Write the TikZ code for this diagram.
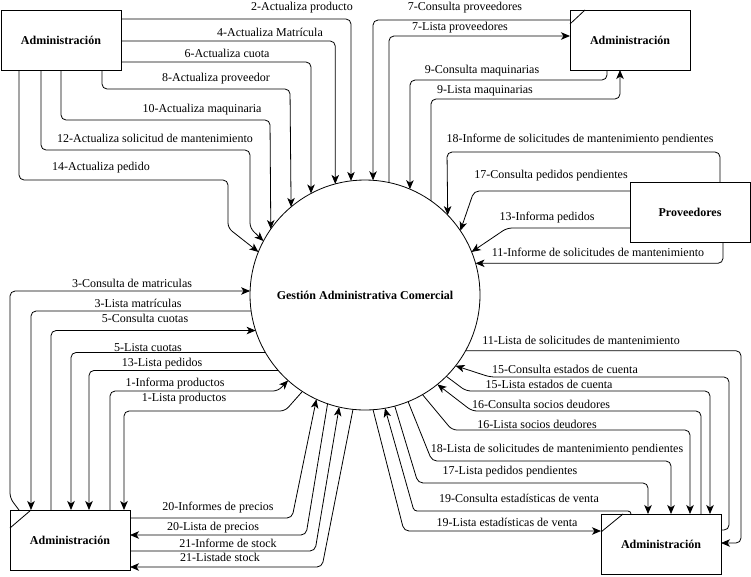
\documentclass[tikz,border=0pt]{standalone}
\usepackage{fontspec}
\setmainfont{Liberation Serif}
\usetikzlibrary{arrows.meta}

\begin{document}
\begin{tikzpicture}[
    x=1pt,y=-1pt,
    every node/.style = {font=\fontsize{12}{14}\selectfont,inner sep=0pt,outer sep=0pt},
    entity/.style = {draw,rectangle,minimum width=120pt,minimum height=60pt,line width=.9pt,font=\fontsize{12}{14}\selectfont\bfseries},
    process/.style = {draw,circle,minimum size=230pt,line width=.8pt,font=\fontsize{12}{14}\selectfont\bfseries},
    flow/.style = {line width=.8pt,rounded corners=5pt,-{Stealth[length=9pt,width=7.5pt,inset=2.5pt]}},
    ]
    \useasboundingbox (0,0) rectangle (751,576);
    \node[process] (gac) at (365,295) {Gestión Administrativa Comercial};
    \node[entity] (adm-tl) at (61,40) {Administración};
    \node[entity] (adm-tr) at (630,40) {Administración};
    \node[entity] (prov) at (690,212) {Proveedores};
    \node[entity] (adm-bl) at (70,540) {Administración};
    \node[entity] (adm-br) at (661,544) {Administración};
    \draw[line width=.8pt] ([yshift=-14pt]adm-tr.north west) -- ([xshift=15pt]adm-tr.north west);
    \draw[line width=.8pt] ([yshift=-18pt]adm-bl.north west) -- ([xshift=21pt]adm-bl.north west);
    \draw[line width=.8pt] ([yshift=-18pt]adm-br.north west) -- ([xshift=22pt]adm-br.north west);

    % administracion arriba izquierda
    \draw[flow] (adm-tl.east |- 0,19) -| (gac.97.5);
    \draw[flow] (adm-tl.east |- 0,41) -| (gac.105.6);
    \draw[flow] (adm-tl.east |- 0,62) -| (gac.118);
    \draw[flow] (adm-tl.south -| 102,0) |- (290,89) -- (gac.130.7);
    \draw[flow] (adm-tl.south) |- (270,120) -- (gac.145.7);
    \draw[flow] (adm-tl.south -| 41,0) |- (250,150) -- (250,228) -- (gac.152);
    \draw[flow] (adm-tl.south -| 19,0) |- (228,180) -- (228,228) -- (gac.158.6);
    \node (l-2) at (302,8) {2-Actualiza producto};
    \node (l-4) at (270,32) {4-Actualiza Matrícula};
    \node (l-6) at (227,53) {6-Actualiza cuota};
    \node (l-8) at (216,79) {8-Actualiza proveedor};
    \node (l-10) at (202,110) {10-Actualiza maquinaria};
    \node (l-12) at (155,138) {12-Actualiza solicitud de mantenimiento};
    \node (l-14) at (101,168) {14-Actualiza pedido};

    % administracion arriba derecha
    \draw[flow] (adm-tr.west |- 0,20) -| (gac.86.5);
    \draw[flow] (gac.78.5) |- (adm-tr.west |- 0,36);
    \draw[flow] (adm-tr.south -| 607,0) |- (410,80) -- (gac.67);
    \draw[flow] (gac.55.6) |- (620,99) -- (adm-tr.south -| 620,0);
    \node (l-7c) at (465,8) {7-Consulta proveedores};
    \node (l-7l) at (460,28) {7-Lista proveedores};
    \node (l-9c) at (482,71) {9-Consulta maquinarias};
    \node (l-9l) at (485,91) {9-Lista maquinarias};

    % proveedores
    \draw[flow] (prov.north -| 720,0) |- (447,152) -- (gac.44.5);
    \draw[flow] (prov.west |- 0,191) -- (474,191) -- (gac.34.8);
    \draw[flow] (prov.west |- 0,228) -- (507,228) -- (gac.22.2);
    \draw[flow] (prov.south -| 723,0) |- (gac.16.2);
    \node (l-18i) at (580,140) {18-Informe de solicitudes de mantenimiento pendientes};
    \node (l-17c) at (551,176) {17-Consulta pedidos pendientes};
    \node (l-13i) at (547,218) {13-Informa pedidos};
    \node (l-11i) at (598,252) {11-Informe de solicitudes de mantenimiento};

    % administracion abajo izquierda
    \draw[flow] (adm-bl.north -| 19,0) -- (10,498) -- (10,291) -- (gac.178);
    \draw[flow] (gac.188) -| (adm-bl.north -| 31,0);
    \draw[flow] (adm-bl.north -| 51,0) |- (gac.198.2);
    \draw[flow] (gac.210.9) -| (adm-bl.north -| 71,0);
    \draw[flow] (gac.221.4) -| (adm-bl.north -| 89,0);
    \draw[flow] (adm-bl.north -| 110,0) |- (278,391) -- (gac.228.8);
    \draw[flow] (gac.237.3) -- (285,411) -| (adm-bl.north -| 124,0);
    \draw[flow] (adm-bl.east |- 0,518) -- (292,518) -- (gac.245);
    \draw[flow] (gac.251.4) -- (306,535) -- (adm-bl.east |- 0,535);
    \draw[flow] (adm-bl.east |- 0,551) -- (315,551) -- (gac.257.5);
    \draw[flow] (gac.264) -- (322,567) -- (adm-bl.east |- 0,567);
    \node (l-3c) at (132,283) {3-Consulta de matriculas};
    \node (l-3l) at (138,303) {3-Lista matrículas};
    \node (l-5c) at (145,318) {5-Consulta cuotas};
    \node (l-5l) at (148,348) {5-Lista cuotas};
    \node (l-13l) at (162,364) {13-Lista pedidos};
    \node (l-1i) at (175,384) {1-Informa productos};
    \node (l-1l) at (184,399) {1-Lista productos};
    \node (l-20i) at (218,508) {20-Informes de precios};
    \node (l-20l) at (213,528) {20-Lista de precios};
    \node (l-21i) at (228,543) {21-Informe de stock};
    \node (l-21l) at (220,557) {21-Listade stock};

    % administracion abajo derecha
    \draw[flow] (gac.-29.1) -| (741,543) -- (adm-br.east |- 0,543);
    \draw[flow] (adm-br.east |- 0,530) -| (729,377) -- (490,377) -- (gac.-38);
    \draw[flow] (gac.-45) -- (466,391) -| (adm-br.north -| 710,0);
    \draw[flow] (adm-br.north -| 701,0) |- (472,411) -- (gac.-51.7);
    \draw[flow] (gac.-60.8) -- (452,430) -| (adm-br.north -| 690,0);
    \draw[flow] (gac.-68.6) -- (432,461) -| (adm-br.north -| 671,0);
    \draw[flow] (gac.-75.7) -- (418,483) -| (adm-br.north -| 648,0);
    \draw[flow,rounded corners=3pt] (adm-br.north -| 631,0) |- (414,511) -- (gac.-80.3);
    \draw[flow] (gac.-86) -- (404,531) -- (adm-br.west |- 0,531);
    \node (l-11l) at (581,340) {11-Lista de solicitudes de mantenimiento};
    \node (l-15c) at (565,369) {15-Consulta estados de cuenta};
    \node (l-15l) at (549,384) {15-Lista estados de cuenta};
    \node (l-16c) at (541,404) {16-Consulta socios deudores};
    \node (l-16l) at (537,424) {16-Lista socios deudores};
    \node (l-18l) at (557,450) {18-Lista de solicitudes de mantenimiento pendientes};
    \node (l-17l) at (510,472) {17-Lista pedidos pendientes};
    \node (l-19c) at (519,498) {19-Consulta estadísticas de venta};
    \node (l-19l) at (507,522) {19-Lista estadísticas de venta};
\end{tikzpicture}
\end{document}
